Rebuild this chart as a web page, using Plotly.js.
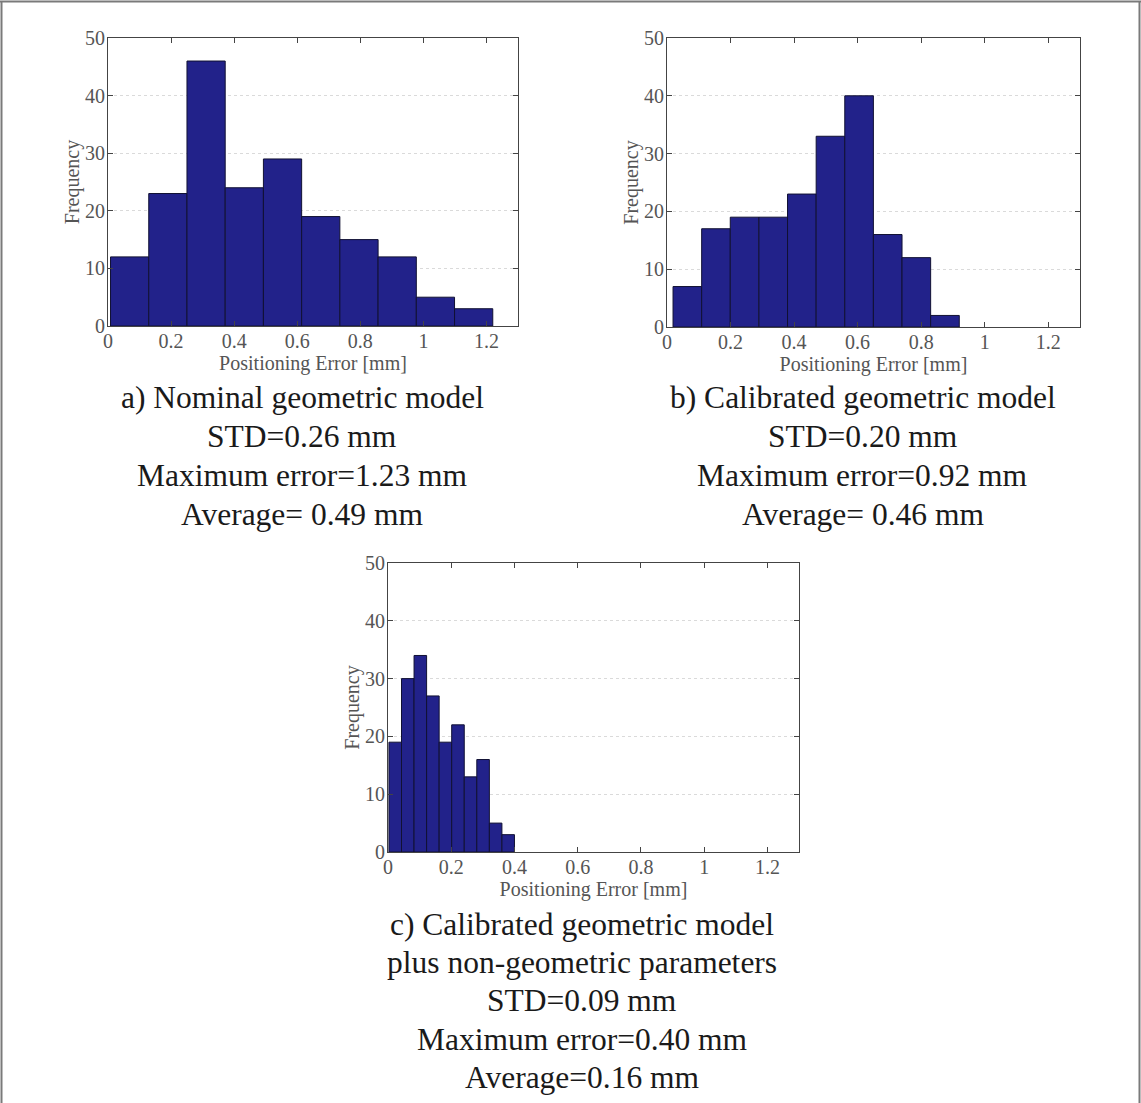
<!DOCTYPE html>
<html>
<head>
<meta charset="utf-8">
<script src="https://cdn.plot.ly/plotly-3.0.1.min.js"></script>
<style>
  html, body { margin: 0; padding: 0; background: #ffffff; }
  #chart { width: 1141px; height: 1103px; }
</style>
</head>
<body>
<div id="chart"></div>
<script>
// ---- data ----
const countsA = [12, 23, 46, 24, 29, 19, 15, 12, 5, 3];
const countsB = [7, 17, 19, 19, 23, 33, 40, 16, 12, 2];
const countsC = [19, 30, 34, 27, 19, 22, 13, 16, 5, 3];
const rangeA = [0.008, 1.22];   // histogram data range (min, max error)
const rangeB = [0.019, 0.92];
const rangeC = [0.003, 0.40];

const xTickVals = [0, 0.2, 0.4, 0.6, 0.8, 1, 1.2];
const xTickText = ['0', '0.2', '0.4', '0.6', '0.8', '1', '1.2'];
const yTickVals = [0, 10, 20, 30, 40, 50];
const yTickText = ['0', '10', '20', '30', '40', '50'];

const xTitle = 'Positioning Error [mm]';
const yTitle = 'Frequency';

const captionA = ['a) Nominal geometric model', 'STD=0.26 mm', 'Maximum error=1.23 mm', 'Average= 0.49 mm'];
const captionB = ['b) Calibrated geometric model', 'STD=0.20 mm', 'Maximum error=0.92 mm', 'Average= 0.46 mm'];
const captionC = ['c) Calibrated geometric model', 'plus non-geometric parameters', 'STD=0.09 mm', 'Maximum error=0.40 mm', 'Average=0.16 mm'];

// ---- build ----
const W = 1141, H = 1103;
const px = v => v / W;
const py = v => 1 - v / H;

function bins(counts, range) {
  const n = counts.length;
  const w = (range[1] - range[0]) / n;
  const centers = counts.map((_, i) => range[0] + (i + 0.5) * w);
  return { centers, w };
}

function barTrace(counts, range, xa, ya) {
  const b = bins(counts, range);
  return {
    type: 'bar',
    x: b.centers,
    y: counts,
    width: Array(counts.length).fill(b.w),
    xaxis: xa, yaxis: ya,
    marker: { color: '#22228a', line: { color: '#111133', width: 1 } },
    hoverinfo: 'skip',
    showlegend: false
  };
}

const serif = 'Liberation Serif, Times New Roman, serif';
const tickFont = { family: serif, size: 20, color: '#555555' };
const titleFont = { family: serif, size: 20, color: '#555555' };

function xAxis(domain, anchor) {
  return {
    domain: domain, anchor: anchor,
    range: [0, 1.3],
    tickvals: xTickVals, ticktext: xTickText,
    ticks: 'inside', ticklen: 5, tickcolor: '#444444', tickwidth: 1,
    showline: true, linecolor: '#444444', linewidth: 1, mirror: 'ticks',
    showgrid: false, zeroline: false,
    tickfont: tickFont, ticklabelstandoff: -3,
    title: { text: xTitle, font: titleFont, standoff: 0 },
    automargin: false, fixedrange: true
  };
}
function yAxis(domain, anchor) {
  return {
    domain: domain, anchor: anchor,
    range: [0, 50],
    tickvals: yTickVals, ticktext: yTickText,
    ticks: 'inside', ticklen: 5, tickcolor: '#444444', tickwidth: 1,
    showline: true, linecolor: '#444444', linewidth: 1, mirror: 'ticks',
    showgrid: true, gridcolor: '#dadada', griddash: 'dot', gridwidth: 1,
    zeroline: false,
    tickfont: tickFont, ticklabelstandoff: -2,
    title: { text: yTitle, font: titleFont, standoff: 0 },
    automargin: false, fixedrange: true
  };
}

const data = [
  barTrace(countsA, rangeA, 'x', 'y'),
  barTrace(countsB, rangeB, 'x2', 'y2'),
  barTrace(countsC, rangeC, 'x3', 'y3')
];

const capFont = { family: serif, size: 31.5, color: '#1a1a1a' };
const annotations = [];
function addCaption(lines, cx, firstBaseline, spacing) {
  lines.forEach((t, i) => {
    const base = firstBaseline + i * spacing;
    annotations.push({
      xref: 'paper', yref: 'paper',
      x: px(cx), y: py(base - 0.3375 * capFont.size),
      xanchor: 'center', yanchor: 'middle',
      text: t, showarrow: false, font: capFont
    });
  });
}
addCaption(captionA, 302, 408, 39);
addCaption(captionB, 863, 408, 39);
addCaption(captionC, 582, 935, 38.3);

const frame = { color: '#7a7a7a', width: 2 };
const shapes = [
  { type: 'line', xref: 'paper', yref: 'paper', x0: 0, x1: 1, y0: py(1.5), y1: py(1.5), line: frame },
  { type: 'line', xref: 'paper', yref: 'paper', x0: px(1.5), x1: px(1.5), y0: py(1.5), y1: 0, line: frame },
  { type: 'line', xref: 'paper', yref: 'paper', x0: px(1139.5), x1: px(1139.5), y0: py(1.5), y1: 0, line: frame }
];

const layout = {
  width: W, height: H,
  margin: { l: 0, r: 0, t: 0, b: 0, pad: 0 },
  paper_bgcolor: '#ffffff', plot_bgcolor: '#ffffff',
  showlegend: false,
  barmode: 'overlay',
  xaxis: xAxis([px(108), px(518)], 'y'),
  yaxis: yAxis([py(326), py(38)], 'x'),
  xaxis2: xAxis([px(667), px(1080)], 'y2'),
  yaxis2: yAxis([py(327), py(38)], 'x2'),
  xaxis3: xAxis([px(388), px(799)], 'y3'),
  yaxis3: yAxis([py(852), py(563)], 'x3'),
  annotations: annotations,
  shapes: shapes
};

Plotly.newPlot('chart', data, layout, { staticPlot: true, displayModeBar: false });
</script>
</body>
</html>
